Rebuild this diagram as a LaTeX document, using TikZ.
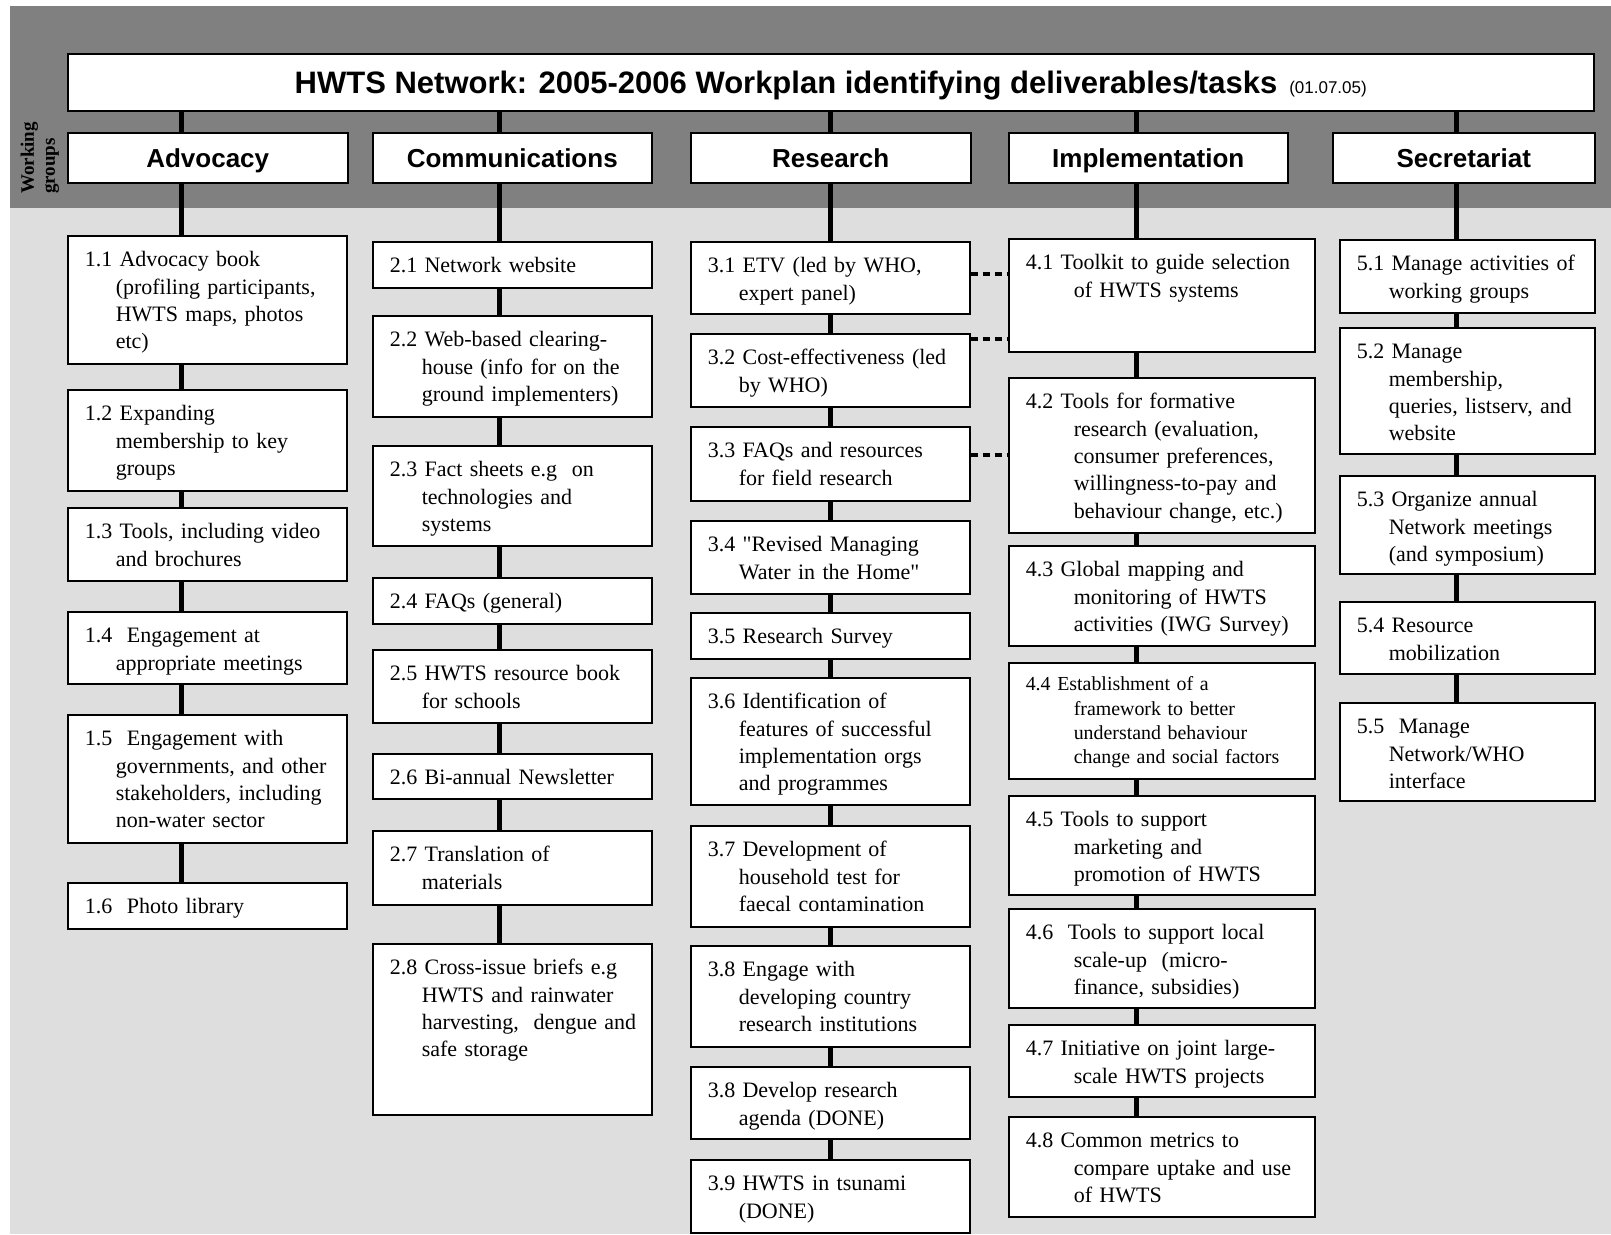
\documentclass[tikz,border=0pt]{standalone}
\usepackage{fontspec}
\setmainfont{Liberation Serif}
\setsansfont{Liberation Sans}
\usetikzlibrary{positioning,calc}

\definecolor{bandgray}{gray}{0.5}
\definecolor{dotgray}{gray}{0.87}

\newcommand{\taskfont}{\fontsize{22}{27.4}\selectfont}
\newcommand{\smalltaskfont}{\fontsize{19.9}{24.4}\selectfont}

\begin{document}
\begin{tikzpicture}[x=1pt, y=1pt,
    group/.style={rectangle, draw=black, line width=1.5pt, fill=white, anchor=north west, minimum height=50pt, inner sep=0pt, text height=24pt, text depth=4pt, font=\sffamily\bfseries\fontsize{26}{30}\selectfont},
    task/.style 2 args={rectangle, draw=black, line width=1.5pt, fill=white, anchor=north west, inner xsep=0pt, inner ysep=0pt, text width=#1, align=left, font=\taskfont, text height=31pt, execute at begin node={\leftskip=\dimexpr17pt+#2\relax\hspace*{-#2}}},
    col1/.style={task={279pt}{31pt}},
    col2/.style={task={279pt}{32pt}},
    col3/.style={task={279pt}{31pt}},
    col4/.style={task={306pt}{48pt}},
    col5/.style={task={255pt}{32pt}},
    trunk/.style={line width=5pt},
    link/.style={line width=3.5pt, dash pattern=on 7pt off 5pt}
]
    \useasboundingbox (0,0) rectangle (1611,-1234);

    % Background bands
    \fill[bandgray] (10,-6) rectangle (1611,-208);
    \fill[dotgray] (10,-208) rectangle (1611,-1234);

    % Title
    \node[rectangle, draw=black, line width=1.5pt, fill=white, anchor=north west, minimum width=1526pt, minimum height=57pt, inner sep=0pt, text height=28pt, text depth=5pt, font=\sffamily\bfseries\fontsize{31}{36}\selectfont] (title) at (67,-53)
        {HWTS Network: 2005-2006 Workplan identifying deliverables/tasks\hspace{12pt}{\mdseries\fontsize{17}{20}\selectfont(01.07.05)}};

    \node[rotate=90, anchor=west, align=left, inner sep=0pt, font=\bfseries\fontsize{19}{21}\selectfont] (wg) at (40,-194) {Working\\groups};

    % Working groups
    \node[group, minimum width=280pt] (adv) at (67,-132) {Advocacy};
    \node[group, minimum width=279pt] (com) at (372,-132) {Communications};
    \node[group, minimum width=280pt] (res) at (690,-132) {Research};
    \node[group, minimum width=279pt] (imp) at (1008,-132) {Implementation};
    \node[group, minimum width=262pt] (sec) at (1332,-132) {Secretariat};

    \coordinate (sp1) at (181,0);
    \coordinate (sp2) at (499,0);
    \coordinate (sp3) at (830,0);
    \coordinate (sp4) at (1136,0);
    \coordinate (sp5) at (1456,0);

    % Advocacy tasks
    \node[col1, text depth=97pt] (a11) at (67,-235) {1.1 Advocacy book\\(profiling participants,\\HWTS maps, photos\\etc)};
    \node[col1, text depth=70pt] (a12) at (67,-389) {1.2 Expanding\\membership to key\\groups};
    \node[col1, text depth=42pt] (a13) at (67,-507) {1.3 Tools, including video\\and brochures};
    \node[col1, text depth=41pt] (a14) at (67,-611) {1.4~ Engagement at\\appropriate meetings};
    \node[col1, text depth=97pt] (a15) at (67,-714) {1.5~ Engagement with\\governments, and other\\stakeholders, including\\non-water sector};
    \node[col1, text depth=15pt] (a16) at (67,-882) {1.6~ Photo library};

    % Communications tasks
    \node[col2, text depth=15pt] (c21) at (372,-241) {2.1 Network website};
    \node[col2, text depth=70pt] (c22) at (372,-315) {2.2 Web-based clearing-\\house (info for on the\\ground implementers)};
    \node[col2, text depth=69pt] (c23) at (372,-445) {2.3 Fact sheets e.g~ on\\technologies and\\systems};
    \node[col2, text depth=15pt] (c24) at (372,-577) {2.4 FAQs (general)};
    \node[col2, text depth=42pt] (c25) at (372,-649) {2.5 HWTS resource book\\for schools};
    \node[col2, text depth=14pt] (c26) at (372,-753) {2.6 Bi-annual Newsletter};
    \node[col2, text depth=43pt] (c27) at (372,-830) {2.7 Translation of\\materials};
    \node[col2, text depth=140pt] (c28) at (372,-943) {2.8 Cross-issue briefs e.g\\HWTS and rainwater\\harvesting,~ dengue and\\safe storage};

    % Research tasks
    \node[col3, text depth=41pt] (r31) at (690,-241) {3.1 ETV (led by WHO,\\expert panel)};
    \node[col3, text depth=42pt] (r32) at (690,-333) {3.2 Cost-effectiveness (led\\by WHO)};
    \node[col3, text depth=43pt] (r33) at (690,-426) {3.3 FAQs and resources\\for field research};
    \node[col3, text depth=42pt] (r34) at (690,-520) {3.4 \textquotedbl Revised Managing\\Water in the Home\textquotedbl};
    \node[col3, text depth=15pt] (r35) at (690,-612) {3.5 Research Survey};
    \node[col3, text depth=96pt] (r36) at (690,-677) {3.6 Identification of\\features of successful\\implementation orgs\\and programmes};
    \node[col3, text depth=70pt] (r37) at (690,-825) {3.7 Development of\\household test for\\faecal contamination};
    \node[col3, text depth=70pt] (r38a) at (690,-945) {3.8 Engage with\\developing country\\research institutions};
    \node[col3, text depth=41pt] (r38b) at (690,-1066) {3.8 Develop research\\agenda (DONE)};
    \node[col3, text depth=42pt] (r39) at (690,-1159) {3.9 HWTS in tsunami\\(DONE)};

    % Implementation tasks
    \node[col4, text depth=82pt] (i41) at (1008,-238) {4.1 Toolkit to guide selection\\of HWTS systems};
    \node[col4, text depth=124pt] (i42) at (1008,-377) {4.2 Tools for formative\\research (evaluation,\\consumer preferences,\\willingness-to-pay and\\behaviour change, etc.)};
    \node[col4, text depth=69pt] (i43) at (1008,-545) {4.3 Global mapping and\\monitoring of HWTS\\activities (IWG Survey)};
    \node[col4, font=\smalltaskfont, text height=28pt, text depth=88pt] (i44) at (1008,-662) {4.4 Establishment of a\\framework to better\\understand behaviour\\change and social factors};
    \node[col4, text depth=68pt] (i45) at (1008,-795) {4.5 Tools to support\\marketing and\\promotion of HWTS};
    \node[col4, text depth=68pt] (i46) at (1008,-908) {4.6~ Tools to support local\\scale-up~ (micro-\\finance, subsidies)};
    \node[col4, text depth=41pt] (i47) at (1008,-1024) {4.7 Initiative on joint large-\\scale HWTS projects};
    \node[col4, text depth=69pt] (i48) at (1008,-1116) {4.8 Common metrics to\\compare uptake and use\\of HWTS};

    % Secretariat tasks
    \node[col5, text depth=42pt] (s51) at (1339,-239) {5.1 Manage activities of\\working groups};
    \node[col5, text depth=95pt] (s52) at (1339,-327) {5.2 Manage\\membership,\\queries, listserv, and\\website};
    \node[col5, text depth=67pt] (s53) at (1339,-475) {5.3 Organize annual\\Network meetings\\(and symposium)};
    \node[col5, text depth=41pt] (s54) at (1339,-601) {5.4 Resource\\mobilization};
    \node[col5, text depth=67pt] (s55) at (1339,-702) {5.5~ Manage\\Network/WHO\\interface};

    % Title to working groups
    \draw[trunk] (title.south -| sp1) -- (adv.north -| sp1);
    \draw[trunk] (title.south -| sp2) -- (com.north -| sp2);
    \draw[trunk] (title.south -| sp3) -- (res.north -| sp3);
    \draw[trunk] (title.south -| sp4) -- (imp.north -| sp4);
    \draw[trunk] (title.south -| sp5) -- (sec.north -| sp5);

    % Advocacy column
    \draw[trunk] (adv.south -| sp1) -- (a11.north -| sp1);
    \draw[trunk] (a11.south -| sp1) -- (a12.north -| sp1);
    \draw[trunk] (a12.south -| sp1) -- (a13.north -| sp1);
    \draw[trunk] (a13.south -| sp1) -- (a14.north -| sp1);
    \draw[trunk] (a14.south -| sp1) -- (a15.north -| sp1);
    \draw[trunk] (a15.south -| sp1) -- (a16.north -| sp1);

    % Communications column
    \draw[trunk] (com.south -| sp2) -- (c21.north -| sp2);
    \draw[trunk] (c21.south -| sp2) -- (c22.north -| sp2);
    \draw[trunk] (c22.south -| sp2) -- (c23.north -| sp2);
    \draw[trunk] (c23.south -| sp2) -- (c24.north -| sp2);
    \draw[trunk] (c24.south -| sp2) -- (c25.north -| sp2);
    \draw[trunk] (c25.south -| sp2) -- (c26.north -| sp2);
    \draw[trunk] (c26.south -| sp2) -- (c27.north -| sp2);
    \draw[trunk] (c27.south -| sp2) -- (c28.north -| sp2);

    % Research column
    \draw[trunk] (res.south -| sp3) -- (r31.north -| sp3);
    \draw[trunk] (r31.south -| sp3) -- (r32.north -| sp3);
    \draw[trunk] (r32.south -| sp3) -- (r33.north -| sp3);
    \draw[trunk] (r33.south -| sp3) -- (r34.north -| sp3);
    \draw[trunk] (r34.south -| sp3) -- (r35.north -| sp3);
    \draw[trunk] (r35.south -| sp3) -- (r36.north -| sp3);
    \draw[trunk] (r36.south -| sp3) -- (r37.north -| sp3);
    \draw[trunk] (r37.south -| sp3) -- (r38a.north -| sp3);
    \draw[trunk] (r38a.south -| sp3) -- (r38b.north -| sp3);
    \draw[trunk] (r38b.south -| sp3) -- (r39.north -| sp3);

    % Implementation column
    \draw[trunk] (imp.south -| sp4) -- (i41.north -| sp4);
    \draw[trunk] (i41.south -| sp4) -- (i42.north -| sp4);
    \draw[trunk] (i42.south -| sp4) -- (i43.north -| sp4);
    \draw[trunk] (i43.south -| sp4) -- (i44.north -| sp4);
    \draw[trunk] (i44.south -| sp4) -- (i45.north -| sp4);
    \draw[trunk] (i45.south -| sp4) -- (i46.north -| sp4);
    \draw[trunk] (i46.south -| sp4) -- (i47.north -| sp4);
    \draw[trunk] (i47.south -| sp4) -- (i48.north -| sp4);

    % Secretariat column
    \draw[trunk] (sec.south -| sp5) -- (s51.north -| sp5);
    \draw[trunk] (s51.south -| sp5) -- (s52.north -| sp5);
    \draw[trunk] (s52.south -| sp5) -- (s53.north -| sp5);
    \draw[trunk] (s53.south -| sp5) -- (s54.north -| sp5);
    \draw[trunk] (s54.south -| sp5) -- (s55.north -| sp5);

    % Research to implementation links
    \draw[link] ([yshift=4pt]r31.east) -- ([yshift=4pt]r31.east -| i41.west);
    \draw[link] ([yshift=31.5pt]r32.east) -- ([yshift=31.5pt]r32.east -| i41.west);
    \draw[link] ([yshift=9pt]r33.east) -- ([yshift=9pt]r33.east -| i42.west);
\end{tikzpicture}
\end{document}
